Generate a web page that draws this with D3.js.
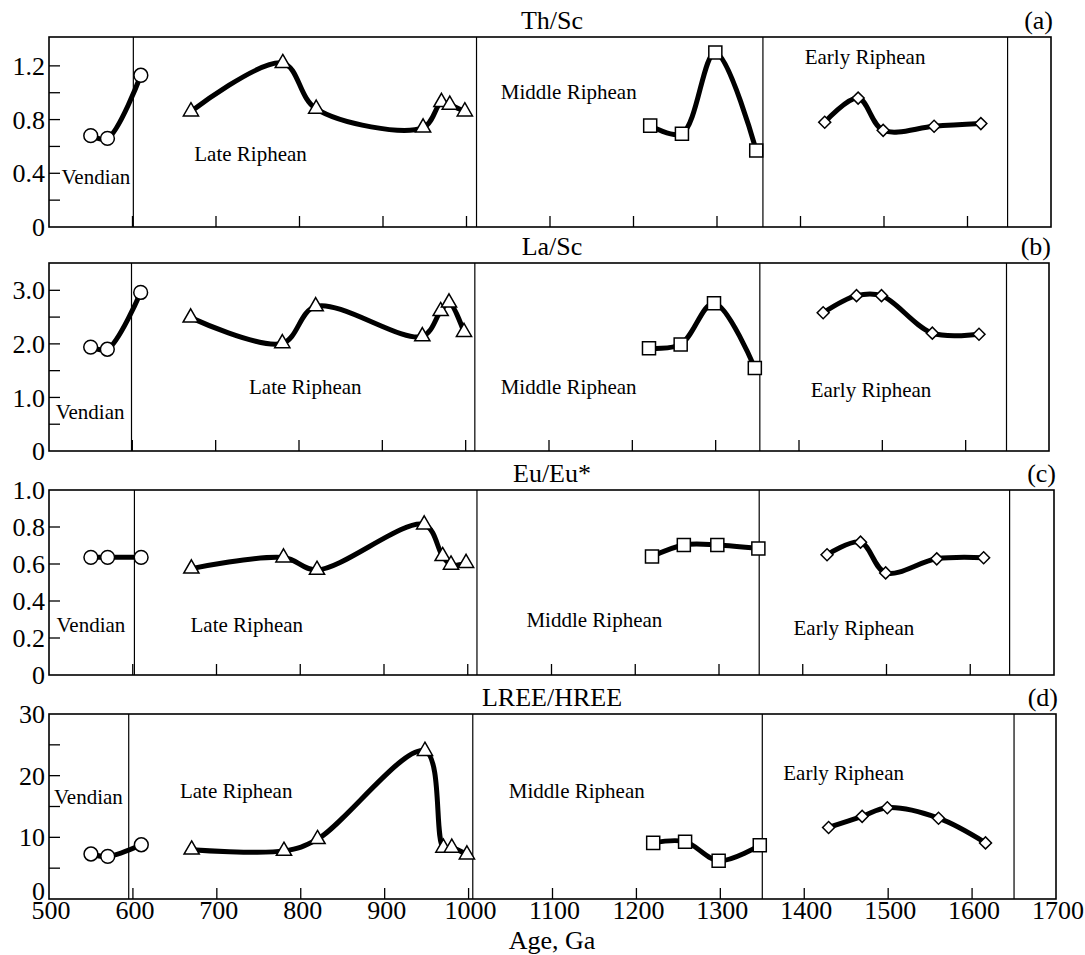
<!DOCTYPE html>
<html><head><meta charset="utf-8">
<script src="https://cdn.jsdelivr.net/npm/d3@7"></script>
<style>body{margin:0;background:#fff}svg{display:block}text{font-family:"Liberation Serif","Times New Roman",serif;fill:#000}</style>
</head><body><div id="chart"></div>
<script>
// ---- data ----
const vendianAge = [550, 570, 610];
const lateAge    = [670, 780, 820, 948, 970, 980, 998];
const middleAge  = [1220, 1258, 1298, 1347];
const earlyAge   = [1429, 1469, 1499, 1560, 1616];

const thScV = [0.68, 0.66, 1.13];
const thScL = [0.86, 1.22, 0.88, 0.74, 0.93, 0.91, 0.86];
const thScM = [0.755, 0.695, 1.30, 0.57];
const thScE = [0.78, 0.96, 0.72, 0.75, 0.77];

const laScV = [1.94, 1.90, 2.96];
const laScL = [2.49, 2.01, 2.70, 2.14, 2.61, 2.77, 2.22];
const laScM = [1.92, 1.99, 2.76, 1.55];
const laScE = [2.58, 2.90, 2.90, 2.20, 2.18];

const euV = [0.636, 0.636, 0.636];
const euL = [0.575, 0.635, 0.568, 0.813, 0.642, 0.596, 0.605];
const euM = [0.641, 0.703, 0.703, 0.684];
const euE = [0.65, 0.718, 0.552, 0.628, 0.634];

const lhV = [7.3, 6.9, 8.8];
const lhL = [8.0, 7.8, 9.7, 24.0, 8.3, 8.3, 7.2];
const lhM = [9.1, 9.3, 6.2, 8.7];
const lhE = [11.6, 13.4, 14.8, 13.1, 9.1];

const titles = ["Th/Sc", "La/Sc", "Eu/Eu*", "LREE/HREE"];
const letters = ["(a)", "(b)", "(c)", "(d)"];
const periodNames = ["Vendian", "Late Riphean", "Middle Riphean", "Early Riphean"];

const xTicks = [500, 600, 700, 800, 900, 1000, 1100, 1200, 1300, 1400, 1500, 1600, 1700];
const yMajorA = [0, 0.4, 0.8, 1.2], yMinorA = [0.2, 0.6, 1.0];
const yMajorB = [0, 1, 2, 3],       yMinorB = [0.5, 1.5, 2.5];
const yMajorC = [0, 0.2, 0.4, 0.6, 0.8, 1.0], yMinorC = [];
const yMajorD = [0, 10, 20, 30],    yMinorD = [5, 15, 25];
const fmtA = d => d === 0 ? "0" : d3.format(".1f")(d);
const fmtD = d => String(d);

// period boundaries (age) as drawn in each panel
const boundsA = [601, 1012, 1355, 1648];
const boundsB = [599, 1011, 1353, 1649];
const boundsC = [602, 1011, 1348, 1647];
const boundsD = [595, 1005, 1350, 1650];

// ---- layout ----
const W = 1085, H = 955, left = 49;
const panels = [
  {top: 37,  bottom: 227, right: 1051, ymax: 1.415, major: yMajorA, minor: yMinorA, fmt: fmtA, bounds: boundsA,
   ys: [thScV, thScL, thScM, thScE],
   lab: [[515, 0.32], [674, 0.49], [1041, 0.95], [1405, 1.214]]},
  {top: 263, bottom: 451, right: 1049, ymax: 3.51, major: yMajorB, minor: yMinorB, fmt: fmtA, bounds: boundsB,
   ys: [laScV, laScL, laScM, laScE],
   lab: [[508, 0.594], [740, 1.06], [1042, 1.06], [1414, 1.017]]},
  {top: 490, bottom: 675, right: 1054, ymax: 1.0, major: yMajorC, minor: yMinorC, fmt: fmtA, bounds: boundsC,
   ys: [euV, euL, euM, euE],
   lab: [[509, 0.232], [669, 0.234], [1070, 0.262], [1389, 0.215]]},
  {top: 714, bottom: 899, right: 1056, ymax: 30, major: yMajorD, minor: yMinorD, fmt: fmtD, bounds: boundsD,
   ys: [lhV, lhL, lhM, lhE],
   lab: [[506, 15.4], [656, 16.4], [1048, 16.4], [1375, 19.3]]}
];
const ageSets = [vendianAge, lateAge, middleAge, earlyAge];

const svg = d3.select("#chart").append("svg").attr("width", W).attr("height", H);

const symbols = [
  d3.symbol().type(d3.symbolCircle).size(150),
  d3.symbol().type(d3.symbolTriangle).size(100),
  d3.symbol().type(d3.symbolSquare).size(170),
  d3.symbol().type(d3.symbolSquare).size(72)
];
const rotate = [0, 0, 0, 45];

panels.forEach((p, i) => {
  const last = i === panels.length - 1;
  const x = d3.scaleLinear().domain([500, 1700]).range([left, p.right]);
  const y = d3.scaleLinear().domain([0, p.ymax]).range([p.bottom, p.top]);
  const g = svg.append("g");

  // frame
  g.append("rect").attr("x", left).attr("y", p.top).attr("width", p.right - left).attr("height", p.bottom - p.top)
    .attr("fill", "none").attr("stroke", "#000").attr("stroke-width", 1.6);

  // period boundaries
  g.selectAll("line.b").data(p.bounds).join("line")
    .attr("x1", d => x(d)).attr("x2", d => x(d)).attr("y1", p.top).attr("y2", p.bottom)
    .attr("stroke", "#000").attr("stroke-width", 1.2);

  // x ticks inside
  g.selectAll("line.xt").data(xTicks.slice(1, -1)).join("line")
    .attr("x1", d => x(d)).attr("x2", d => x(d)).attr("y1", p.bottom).attr("y2", p.bottom - 11)
    .attr("stroke", "#000").attr("stroke-width", 1.3);

  // y ticks inside
  g.selectAll("line.yt").data(p.major.concat(p.minor).filter(v => v > 0 && v < p.ymax - 1e-9)).join("line")
    .attr("x1", left).attr("x2", left + 11).attr("y1", d => y(d)).attr("y2", d => y(d))
    .attr("stroke", "#000").attr("stroke-width", 1.3);

  // y tick labels
  g.selectAll("text.yl").data(p.major).join("text")
    .attr("x", 45).attr("y", d => y(d) - (last && d === 0 ? 8 : 0)).attr("dy", "0.35em")
    .attr("text-anchor", "end").style("font-size", "26px").text(p.fmt);

  // title and letter
  g.append("text").attr("x", 552).attr("y", p.top - 8).attr("text-anchor", "middle")
    .style("font-size", "26px").text(titles[i]);
  g.append("text").attr("x", p.right + 2).attr("y", p.top - 8).attr("text-anchor", "end")
    .style("font-size", "26px").text(letters[i]);

  // period labels
  p.lab.forEach((l, k) => {
    g.append("text").attr("x", x(l[0])).attr("y", y(l[1]))
      .style("font-size", "21px").text(periodNames[k]);
  });

  // series
  const line = d3.line().x(d => x(d[0])).y(d => y(d[1])).curve(d3.curveCatmullRom.alpha(0.5));
  ageSets.forEach((ages, k) => {
    const pts = ages.map((a, j) => [a, p.ys[k][j]]);
    g.append("path").attr("d", line(pts)).attr("fill", "none").attr("stroke", "#000")
      .attr("stroke-width", 5).attr("stroke-linejoin", "round").attr("stroke-linecap", "round");
    g.selectAll(null).data(pts).join("path")
      .attr("d", symbols[k]())
      .attr("transform", d => `translate(${x(d[0])},${y(d[1])}) rotate(${rotate[k]})`)
      .attr("fill", "#fff").attr("stroke", "#000").attr("stroke-width", 1.5);
  });

  // x tick labels on bottom panel only
  if (last) {
    g.selectAll("text.xl").data(xTicks).join("text")
      .attr("x", d => x(d) + 2).attr("y", 919).attr("text-anchor", "middle")
      .style("font-size", "26px").text(d => d);
    g.append("text").attr("x", 552).attr("y", 949).attr("text-anchor", "middle")
      .style("font-size", "26px").text("Age, Ga");
  }
});
</script></body></html>
